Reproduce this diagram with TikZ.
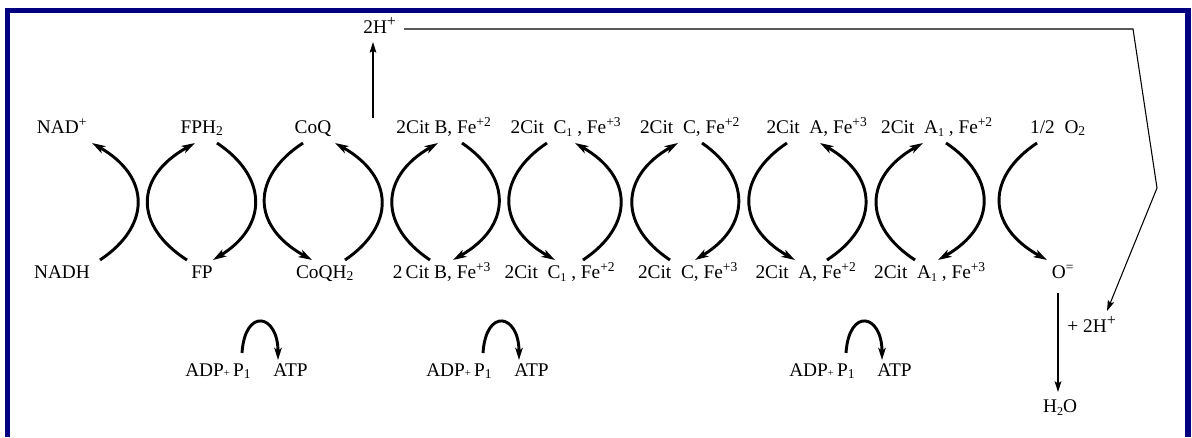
\documentclass[tikz,border=0pt]{standalone}
\usepackage{fontspec}
\setmainfont{Liberation Serif}
\usetikzlibrary{arrows.meta}
\definecolor{navy}{RGB}{0,0,128}
\newcommand\lowsub[1]{\raisebox{-0.35ex}{\small #1}}
\tikzset{
  lbl/.style={inner sep=0pt, font=\fontsize{14.5}{16}\selectfont, anchor=base},
  redox/.style={line width=2.2pt, -{Stealth[length=10pt,width=6pt,inset=2.5pt]}},
  fine/.style={line width=0.8pt},
  finearrow/.style={line width=0.8pt, -{Stealth[length=8pt,width=5pt,inset=1.5pt]}},
  loopy/.style={line width=2.2pt, -{Stealth[length=9pt,width=5.5pt,inset=2pt]}}
}
\begin{document}
\begin{tikzpicture}[x=0.75pt,y=-0.75pt]
\useasboundingbox (0,0) rectangle (1192,437);
% frame
\fill[navy] (5,8) rectangle (10,437);
\fill[navy] (5,8) rectangle (1191,13);
\fill[navy] (1185,8) rectangle (1191,437);

% top row
\node[lbl] (nad) at (62,133) {NAD\textsuperscript{+}};
\node[lbl] (fph) at (202,133) {FPH\textsubscript{2}};
\node[lbl] (coq) at (313,133) {CoQ};
\node[lbl] (cbt) at (444,133) {2Cit B, Fe\textsuperscript{+2}};
\node[lbl] (c1t) at (566,133) {2Cit\ \ C\lowsub{1}\ , Fe\textsuperscript{+3}};
\node[lbl] (cct) at (690,133) {2Cit\ \ C, Fe\textsuperscript{+2}};
\node[lbl] (cat) at (817,133) {2Cit\ \ A, Fe\textsuperscript{+3}};
\node[lbl] (a1t) at (937,133) {2Cit\ \ A\lowsub{1}\ , Fe\textsuperscript{+2}};
\node[lbl] (o2) at (1058,133) {1/2\ \ O\textsubscript{2}};

% bottom row
\node[lbl] (nadh) at (62,278) {NADH};
\node[lbl] (fp) at (202,278) {FP};
\node[lbl] (coqh) at (325,278) {CoQH\textsubscript{2}};
\node[lbl] (cbb) at (442,278) {2\,Cit B, Fe\textsuperscript{+3}};
\node[lbl] (c1b) at (560,278) {2Cit\ \ C\lowsub{1}\ , Fe\textsuperscript{+2}};
\node[lbl] (ccb) at (688,278) {2Cit\ \ C, Fe\textsuperscript{+3}};
\node[lbl] (cab) at (806,278) {2Cit\ \ A, Fe\textsuperscript{+2}};
\node[lbl] (a1b) at (930,278) {2Cit\ \ A\lowsub{1}\ , Fe\textsuperscript{+3}};
\node[lbl] (oeq) at (1063,278) {O\textsuperscript{=}};

% protons and water
\node[lbl] (h2) at (380,33) {2H\textsuperscript{\large +}};
\node[lbl] (p2h) at (1092,332) {+ 2H\textsuperscript{\large +}};
\node[lbl] (h2o) at (1060,412) {H\lowsub{2}O};

% ATP groups
\node[lbl, anchor=base west] (adp1) at (185,376) {ADP{\footnotesize +}\,P\textsubscript{1}};
\node[lbl, anchor=base west] (atp1) at (273,376) {ATP};
\node[lbl, anchor=base west] (adp2) at (426,376) {ADP{\footnotesize +}\,P\textsubscript{1}};
\node[lbl, anchor=base west] (atp2) at (514,376) {ATP};
\node[lbl, anchor=base west] (adp3) at (789,376) {ADP{\footnotesize +}\,P\textsubscript{1}};
\node[lbl, anchor=base west] (atp3) at (877,376) {ATP};

% redox arcs
\draw[redox] ([shift={(38,-18)}]nadh.base) .. controls +(51,-34) and +(59,34) .. ([shift={(30,10)}]nad.base);
\draw[redox] ([shift={(-15,-18)}]fp.base) .. controls +(-53,-34) and +(-61,34) .. ([shift={(-7,10)}]fph.base);
\draw[redox] ([shift={(15,10)}]fph.base) .. controls +(51,34) and +(55,-34) .. ([shift={(11,-18)}]fp.base);
\draw[redox] ([shift={(-10,10)}]coq.base) .. controls +(-52,34) and +(-61,-34) .. ([shift={(-13,-18)}]coqh.base);
\draw[redox] ([shift={(20,-18)}]coqh.base) .. controls +(50,-34) and +(60,34) .. ([shift={(22,10)}]coq.base);
\draw[redox] ([shift={(-12,-18)}]cbb.base) .. controls +(-51,-34) and +(-59,34) .. ([shift={(-6,10)}]cbt.base);
\draw[redox] ([shift={(18,10)}]cbt.base) .. controls +(50,34) and +(59,-34) .. ([shift={(11,-18)}]cbb.base);
\draw[redox] ([shift={(-19,10)}]c1t.base) .. controls +(-51,34) and +(-59,-34) .. ([shift={(-5,-18)}]c1b.base);
\draw[redox] ([shift={(23,-18)}]c1b.base) .. controls +(51,-34) and +(59,34) .. ([shift={(9,10)}]c1t.base);
\draw[redox] ([shift={(-18,-18)}]ccb.base) .. controls +(-51,-34) and +(-59,34) .. ([shift={(-12,10)}]cct.base);
\draw[redox] ([shift={(12,10)}]cct.base) .. controls +(49,34) and +(56,-34) .. ([shift={(7,-18)}]ccb.base);
\draw[redox] ([shift={(-30,10)}]cat.base) .. controls +(-51,34) and +(-59,-34) .. ([shift={(-11,-18)}]cab.base);
\draw[redox] ([shift={(21,-18)}]cab.base) .. controls +(52,-34) and +(59,34) .. ([shift={(3,10)}]cat.base);
\draw[redox] ([shift={(-15,-18)}]a1b.base) .. controls +(-52,-34) and +(-60,34) .. ([shift={(-14,10)}]a1t.base);
\draw[redox] ([shift={(9,10)}]a1t.base) .. controls +(51,34) and +(59,-34) .. ([shift={(8,-18)}]a1b.base);
\draw[redox] ([shift={(-21,10)}]o2.base) .. controls +(-51,34) and +(-61,-34) .. ([shift={(-16,-18)}]oeq.base);

% ATP loops
\draw[loopy] ([shift={(57,-23)}]adp1.base west) .. controls +(3,-46) and +(0,-46) .. ([shift={(5,-16)}]atp1.base west);
\draw[loopy] ([shift={(57,-23)}]adp2.base west) .. controls +(3,-46) and +(0,-46) .. ([shift={(5,-16)}]atp2.base west);
\draw[loopy] ([shift={(57,-23)}]adp3.base west) .. controls +(3,-46) and +(0,-46) .. ([shift={(5,-16)}]atp3.base west);

% proton path
\coordinate (hup) at (373,118);
\coordinate (k1) at (1133,29);
\coordinate (k2) at (1157,188);
\draw[finearrow] (hup) -- ([shift={(-7,9)}]h2.base);
\draw[finearrow] ([shift={(24,-4)}]h2.base) -- (k1) -- (k2) -- ([shift={(15,-21)}]p2h.base);
\draw[finearrow] ([shift={(-5,15)}]oeq.base) -- ([shift={(-2,-20)}]h2o.base);
\end{tikzpicture}
\end{document}
